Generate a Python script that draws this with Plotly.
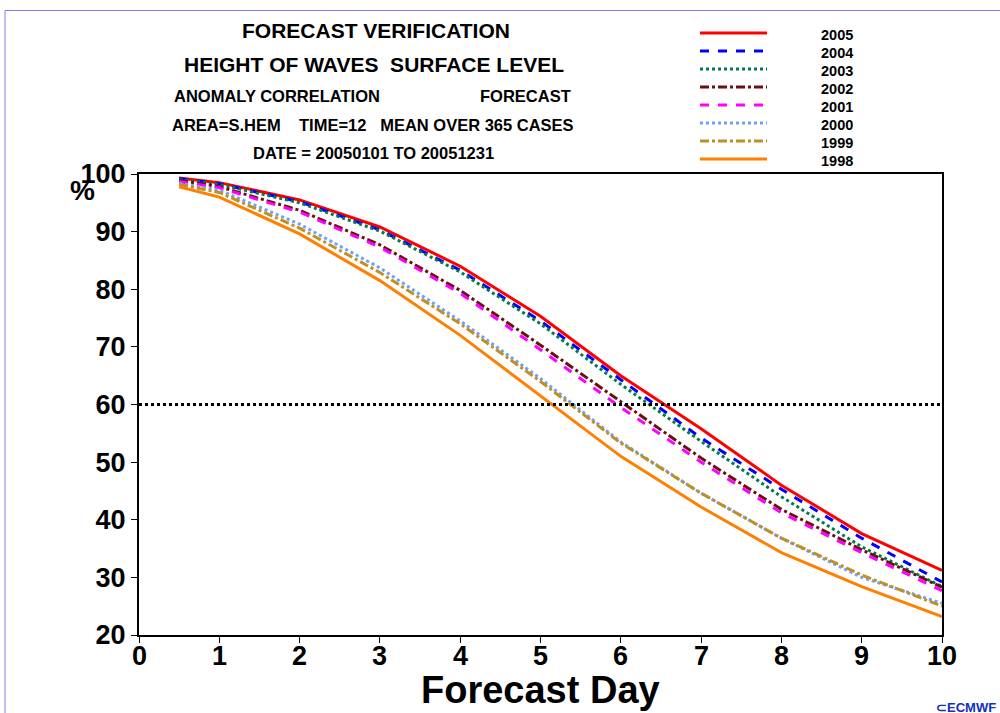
import plotly.graph_objects as go

days = [0.5, 1, 2, 3, 4, 5, 6, 7, 8, 9, 10]
years = ["2005", "2004", "2003", "2002", "2001", "2000", "1999", "1998"]
acc_2005 = [99.3, 98.5, 95.5, 90.8, 84.0, 75.3, 65.0, 55.8, 46.0, 37.6, 31.2]
acc_2004 = [99.2, 98.3, 95.2, 90.3, 83.3, 74.5, 64.3, 54.2, 45.3, 36.8, 29.2]
acc_2003 = [99.1, 98.2, 95.0, 90.1, 83.0, 74.0, 63.5, 53.6, 44.0, 35.3, 28.4]
acc_2002 = [98.9, 97.8, 93.7, 87.7, 79.8, 70.3, 60.5, 50.7, 41.8, 34.8, 28.3]
acc_2001 = [98.7, 97.6, 93.4, 87.3, 79.3, 69.5, 59.5, 50.0, 41.2, 34.3, 27.7]
acc_2000 = [98.4, 97.2, 91.3, 83.7, 74.5, 64.5, 53.5, 44.6, 36.8, 30.0, 25.5]
acc_1999 = [98.2, 96.8, 90.6, 82.9, 74.0, 64.0, 53.3, 44.6, 36.8, 30.4, 25.0]
acc_1998 = [97.8, 96.0, 89.6, 81.5, 72.0, 61.5, 51.0, 42.2, 34.3, 28.4, 23.2]
series = [acc_2005, acc_2004, acc_2003, acc_2002, acc_2001, acc_2000, acc_1999, acc_1998]
colors = ["#ff0000", "#0000ff", "#007a4a", "#6b1010", "#ff00ff", "#6f9fff", "#c09020", "#ff8000"]
dashes = ["solid", "dash", "dot", "dashdot", "dash", "dot", "dashdot", "solid"]
ref_level = 60
x_ticks = list(range(0, 11))
y_ticks = list(range(20, 101, 10))

W, H = 1000, 713
L, R, T, B = 139, 58, 174, 78
PW, PH = W - L - R, H - T - B

def px(x):
    return (x - L) / PW

def py(y):
    return (H - B - y) / PH

fig = go.Figure()
for name, vals, c, d in zip(years, series, colors, dashes):
    fig.add_trace(go.Scatter(x=days, y=vals, mode="lines", name=name,
                             line=dict(color=c, dash=d, width=3), showlegend=False))

fig.add_shape(type="line", xref="x", yref="y", x0=0, x1=10, y0=ref_level, y1=ref_level,
              line=dict(color="black", dash="dot", width=3))

# custom legend
for i, (name, c, d) in enumerate(zip(years, colors, dashes)):
    yy = 33 + 18 * i
    fig.add_shape(type="line", xref="paper", yref="paper", x0=px(700), x1=px(767),
                  y0=py(yy), y1=py(yy), line=dict(color=c, dash=d, width=3))
    fig.add_annotation(xref="paper", yref="paper", x=px(819), y=py(yy + 2), text="<b>%s</b>" % name,
                       showarrow=False, xanchor="left", yanchor="middle",
                       font=dict(family="Liberation Sans", size=14.5, color="black"))

title_font = dict(family="Liberation Sans", color="black")
def txt(x, y, s, size, anchor="center"):
    fig.add_annotation(xref="paper", yref="paper", x=px(x), y=py(y), text="<b>%s</b>" % s,
                       showarrow=False, xanchor=anchor, yanchor="middle",
                       font=dict(size=size, **title_font))

txt(376, 31, "FORECAST VERIFICATION", 21)
txt(374, 65, "HEIGHT OF WAVES  SURFACE LEVEL", 21)
txt(172, 96, "ANOMALY CORRELATION", 16.5, "left")
txt(478, 96, "FORECAST", 16.5, "left")
txt(170, 125, "AREA=S.HEM&nbsp;&nbsp;&nbsp;&nbsp;TIME=12&nbsp;&nbsp;&nbsp;MEAN OVER 365 CASES", 16.5, "left")
txt(373, 153, "DATE = 20050101 TO 20051231", 16.5)
txt(82, 190, "%", 28)
txt(540, 690, "Forecast Day", 38)

# x tick labels placed close to the axis as in the reference
for v in x_ticks:
    fig.add_annotation(xref="x", yref="paper", x=v, y=py(656), text="<b>%d</b>" % v,
                       showarrow=False, xanchor="center", yanchor="middle",
                       font=dict(family="Liberation Sans", size=27, color="black"))

fig.add_annotation(xref="paper", yref="paper", x=px(934), y=py(707), text="<b>⊂ECMWF</b>",
                   showarrow=False, xanchor="left", yanchor="middle",
                   font=dict(family="Liberation Sans", size=13, color="#1030c0"))

# page frame
fig.add_shape(type="line", xref="paper", yref="paper", x0=px(5), x1=px(1000), y0=py(10.5), y1=py(10.5),
              line=dict(color="#8080e0", width=1))
fig.add_shape(type="line", xref="paper", yref="paper", x0=px(5), x1=px(5), y0=py(10.5), y1=py(713),
              line=dict(color="#8080e0", width=1))

axis_font = dict(family="Liberation Sans", size=27, color="black")
fig.update_xaxes(range=[0, 10], tickvals=x_ticks, showticklabels=False,
                 showgrid=False, zeroline=False, showline=True, linecolor="black", linewidth=2,
                 mirror=True, ticks="outside", ticklen=6, tickwidth=1, tickcolor="black")
fig.update_yaxes(range=[20, 100], tickvals=y_ticks, ticktext=["<b>%d</b>" % v for v in y_ticks],
                 showgrid=False, zeroline=False, showline=True, linecolor="black", linewidth=2,
                 mirror=True, ticks="outside", ticklen=6, tickwidth=1, tickcolor="black",
                 tickfont=axis_font)
fig.update_layout(width=W, height=H, margin=dict(l=L, r=R, t=T, b=B, autoexpand=False),
                  plot_bgcolor="white", paper_bgcolor="white")
fig.write_html("out.html")
